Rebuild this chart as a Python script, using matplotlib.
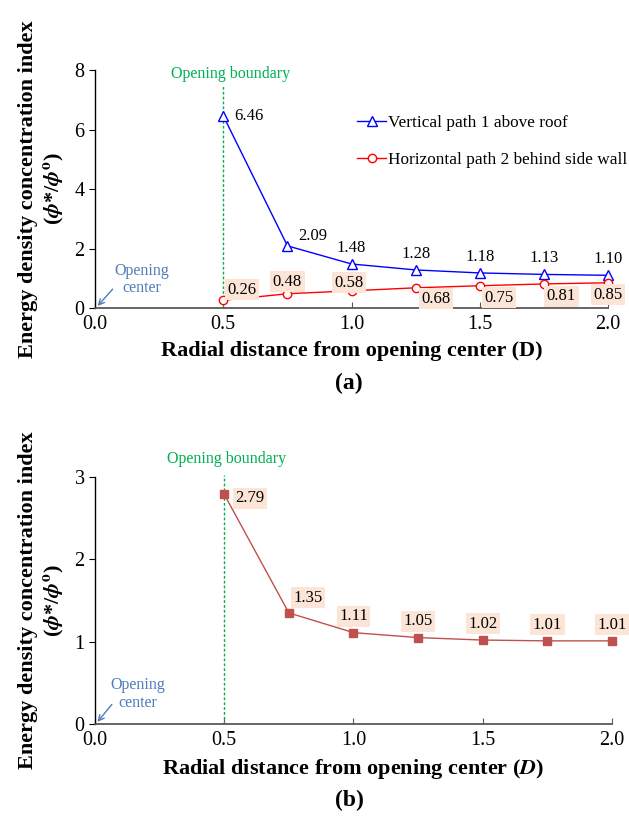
import matplotlib
matplotlib.use("Agg")
import matplotlib.pyplot as plt

plt.rcParams['font.family'] = ['Liberation Serif', 'DejaVu Serif']
plt.rcParams['mathtext.fontset'] = 'stix'

# distances from opening center (D)
dist = [0.5, 0.75, 1.0, 1.25, 1.5, 1.75, 2.0]

# (a) two paths
vertical_roof = [6.46, 2.09, 1.48, 1.28, 1.18, 1.13, 1.10]
horizontal_wall = [0.26, 0.48, 0.58, 0.68, 0.75, 0.81, 0.85]

# (b) single path
path_b = [2.79, 1.35, 1.11, 1.05, 1.02, 1.01, 1.01]

x_ticks = [0.0, 0.5, 1.0, 1.5, 2.0]

GREEN = '#00B050'
CENTER_BLUE = '#4F7DBA'
PEACH = '#FCE4D6'
box = dict(boxstyle='square,pad=0.15', fc=PEACH, ec='none')
LBL = 12

fig = plt.figure(figsize=(6.29, 8.16), dpi=100)
ax1 = fig.add_axes([0.151, 0.6225, 0.816, 0.2917])
ax2 = fig.add_axes([0.151, 0.1127, 0.822, 0.3027])


def style_axes(ax, ymax, yticks):
    ax.set_xlim(0, 2.0)
    ax.set_ylim(0, ymax)
    ax.set_xticks(x_ticks)
    ax.set_xticklabels(['%.1f' % t for t in x_ticks])
    ax.set_yticks(yticks)
    for s in ['top', 'right']:
        ax.spines[s].set_visible(False)
    ax.spines['bottom'].set_color('#595959')
    ax.spines['bottom'].set_linewidth(1.3)
    ax.spines['left'].set_linewidth(1.0)
    ax.tick_params(axis='x', direction='in', length=4, colors='#595959',
                   labelcolor='black', labelsize=14.5, pad=5)
    ax.tick_params(axis='y', direction='out', length=4, labelsize=14.5)
    ax.set_ylabel('Energy density concentration index\n'
                  '($\\mathbfit{\\phi}$*/$\\mathbfit{\\phi}^{\\mathbf{o}}$)',
                  fontsize=16, fontweight='bold', labelpad=6)


def opening_marks(ax, top, tx, ty, ax0, ay0):
    ax.plot([0.5, 0.5], [0, top], color=GREEN, ls=(0, (2, 1.5)), lw=1.0,
            clip_on=False)
    ax.annotate('', xy=(0.003, 0.0), xycoords='data',
                xytext=(ax0, ay0), textcoords='axes fraction',
                arrowprops=dict(arrowstyle='->', color=CENTER_BLUE, lw=1.0))
    ax.text(tx, ty, 'Opening\ncenter', transform=ax.transAxes,
            ha='center', va='center', color=CENTER_BLUE, fontsize=11.5,
            linespacing=1.15)


# ---- (a) ----
style_axes(ax1, 8, [0, 2, 4, 6, 8])
opening_marks(ax1, 7.5, 0.092, 0.12, 0.038, 0.088)
ax1.text(0.53, 7.87, 'Opening boundary', color=GREEN, ha='center',
         va='center', fontsize=11.5)

ax1.plot(dist, vertical_roof, color='#0000FF', lw=1.0, marker='^', ms=7,
         mfc='white', mec='#0000FF', mew=1.0, clip_on=False,
         label='Vertical path 1 above roof')
ax1.plot(dist, horizontal_wall, color='#FF0000', lw=1.0, marker='o', ms=6,
         mfc='white', mec='#FF0000', mew=1.0, clip_on=False,
         label='Horizontal path 2 behind side wall')

blue_offsets = [(8, 0), (8, 1), (0, 6), (0, 6), (0, 6), (0, 6), (0, 6)]
for x, y, off in zip(dist, vertical_roof, blue_offsets):
    ha = 'left' if off[0] else 'center'
    ax1.annotate('%.2f' % y, (x, y), xytext=off, textcoords='offset points',
                 ha=ha, va='bottom' if off[1] else 'center', fontsize=LBL)

red_offsets = [(3, 2), (0, 3), (-2, 0), (4, -2), (3, -3), (2, -3), (0, -3)]
for x, y, off in zip(dist, horizontal_wall, red_offsets):
    ha = 'left' if off[0] > 0 else 'center'
    ax1.annotate('%.2f' % y, (x, y), xytext=off, textcoords='offset points',
                 ha=ha, va='bottom' if off[1] >= 0 else 'top', fontsize=LBL,
                 bbox=box)

ax1.legend(loc='upper left', bbox_to_anchor=(0.497, 0.84), frameon=False,
           fontsize=12.4, handlelength=1.7, handletextpad=0.1,
           labelspacing=1.2, borderaxespad=0)
ax1.set_xlabel('Radial distance from opening center (D)', fontsize=16,
               fontweight='bold', labelpad=5)
fig.text(0.555, 0.5306, '(a)', ha='center', va='center', fontsize=17,
         fontweight='bold')

# ---- (b) ----
style_axes(ax2, 3, [0, 1, 2, 3])
opening_marks(ax2, 3.02, 0.083, 0.12, 0.036, 0.088)
ax2.text(0.51, 3.22, 'Opening boundary', color=GREEN, ha='center',
         va='center', fontsize=11.5)

ax2.plot(dist, path_b, color='#C0504D', lw=1.0, marker='s', ms=6,
         mfc='#C0504D', mec='#C0504D', clip_on=False)
b_offsets = [(8, -3), (3, 5), (0, 6), (0, 6), (0, 6), (0, 6), (0, 6)]
for x, y, off in zip(dist, path_b, b_offsets):
    ha = 'left' if off[0] else 'center'
    va = 'bottom' if off[1] > 0 else 'center'
    ax2.annotate('%.2f' % y, (x, y), xytext=off, textcoords='offset points',
                 ha=ha, va=va, fontsize=LBL, bbox=box)

ax2.set_xlabel('Radial distance from opening center ($\\mathbfit{D}$)',
               fontsize=16, fontweight='bold', labelpad=5)
fig.text(0.555, 0.0196, '(b)', ha='center', va='center', fontsize=17,
         fontweight='bold')

fig.savefig('out.png', dpi=100)
